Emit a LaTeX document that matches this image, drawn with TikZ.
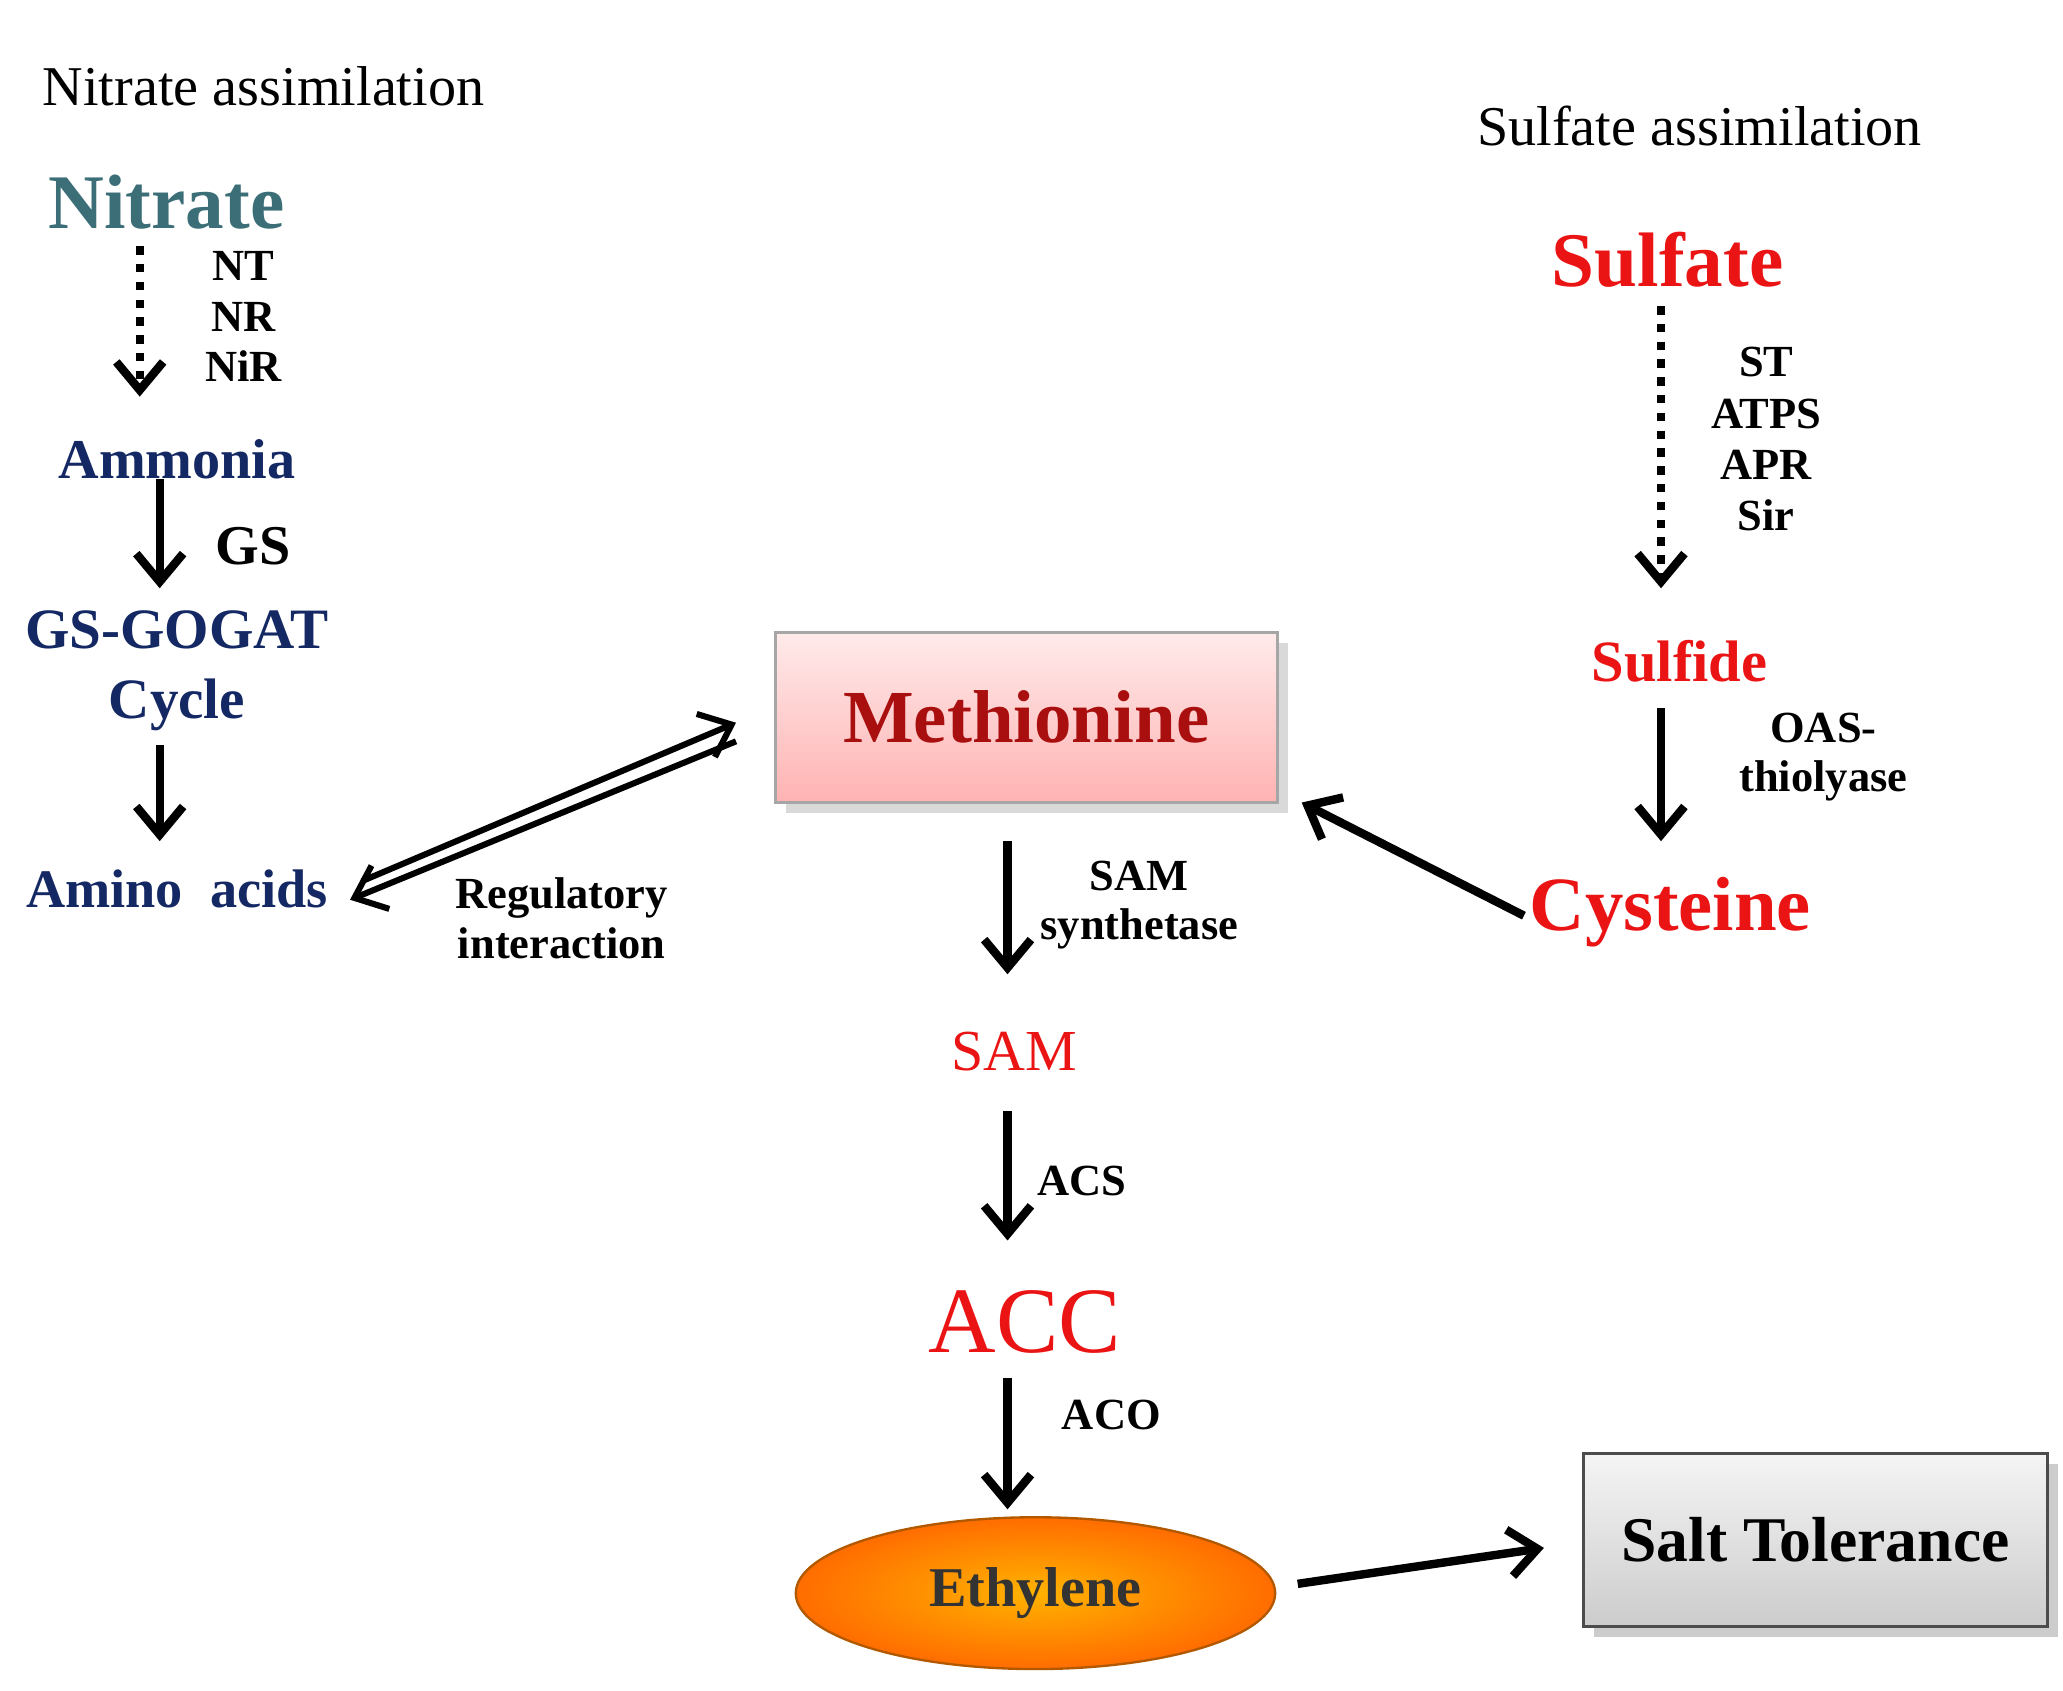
\documentclass[tikz,border=0pt]{standalone}
\usepackage{fontspec}
\setmainfont{Liberation Serif}
\usetikzlibrary{arrows.meta,shapes.geometric,shadows}
\definecolor{nblue}{RGB}{20,40,100}
\definecolor{sred}{RGB}{235,20,20}
\definecolor{teal1}{RGB}{60,110,120}
\definecolor{mred}{RGB}{170,15,15}
\begin{document}
\begin{tikzpicture}[x=0.01cm,y=-0.01cm,
  arr/.style={-{Straight Barb[length=6pt,width=10pt]},line width=1.8pt},
  darr/.style={-{Straight Barb[length=6pt,width=10pt]},line width=1.8pt,dotted},
  lab/.style={font=\fontsize{9.5}{10.5}\selectfont\bfseries,align=center},
  ttl/.style={font=\fontsize{12}{13}\selectfont}]
\useasboundingbox (0,0) rectangle (1550,1270);
% nitrate side
\node[ttl] (nt) at (198,65) {Nitrate assimilation};
\node[font=\fontsize{16.5}{18}\selectfont\bfseries,text=teal1] (nitrate) at (125,152) {Nitrate};
\coordinate (n1) at (105,185); \coordinate (n2) at (105,298);
\draw[darr] (n1) -- (n2);
\node[lab] (lnt) at (183,200) {NT};
\node[lab] (lnr) at (183,238) {NR};
\node[lab] (lnir) at (183,275) {NiR};
\node[font=\fontsize{12}{13}\selectfont\bfseries,text=nblue] (amm) at (133,345) {Ammonia};
\coordinate (a1) at (120,360); \coordinate (a2) at (120,442);
\draw[arr] (a1) -- (a2);
\node[font=\fontsize{12}{13}\selectfont\bfseries] (gs) at (190,410) {GS};
\node[font=\fontsize{12.2}{15}\selectfont\bfseries,text=nblue,align=center] (gsg) at (133,504) {GS-GOGAT\\Cycle};
\coordinate (g1) at (120,560); \coordinate (g2) at (120,632);
\draw[arr] (g1) -- (g2);
\node[font=\fontsize{11.6}{13}\selectfont\bfseries,text=nblue] (aa) at (133,668) {Amino\ \ acids};
% double arrows
\coordinate (u1) at (272,662); \coordinate (u2) at (553,543);
\coordinate (l1) at (553,557); \coordinate (l2) at (263,676);
\draw[line width=1.3pt,-{Straight Barb[length=6pt,width=10pt]}] (u1) -- (u2);
\draw[line width=1.3pt,-{Straight Barb[length=6pt,width=10pt]}] (l1) -- (l2);
\node[lab] (reg) at (422,690) {Regulatory\\interaction};
% methionine
\node[draw=gray!70,line width=0.6pt,top color=red!8,bottom color=red!30,
  minimum width=3.77cm,minimum height=1.28cm,drop shadow={opacity=0.3},
  font=\fontsize{16}{18}\selectfont\bfseries,text=mred] (met) at (771,539) {Methionine};
\coordinate (m1) at (757,632); \coordinate (m2) at (757,732);
\draw[arr] (m1) -- (m2);
\node[lab] (samsyn) at (856,680) {SAM\\synthetase};
\node[font=\fontsize{12.4}{14}\selectfont,text=sred] (sam) at (762,790) {SAM};
\coordinate (s1) at (757,835); \coordinate (s2) at (757,932);
\draw[arr] (s1) -- (s2);
\node[lab] (acs) at (813,887) {ACS};
\node[font=\fontsize{20}{22}\selectfont,text=sred] (acc) at (770,993) {ACC};
\coordinate (c1) at (757,1035); \coordinate (c2) at (757,1134);
\draw[arr] (c1) -- (c2);
\node[lab] (aco) at (835,1063) {ACO};
\node[ellipse,draw=orange!70!black,line width=0.5pt,minimum width=3.6cm,minimum height=1.14cm,
  inner color=orange!60!yellow,outer color=orange!85!red,
  font=\fontsize{12}{14}\selectfont\bfseries,text=black!80] (eth) at (778,1197) {Ethylene};
\node[draw=gray!60!black,line width=0.6pt,minimum width=3.48cm,minimum height=1.3cm,
  top color=gray!8,bottom color=gray!40,drop shadow={opacity=0.4},
  font=\fontsize{13.6}{15}\selectfont\bfseries] (salt) at (1364,1157) {Salt Tolerance};
\coordinate (e1) at (975,1190); \coordinate (e2) at (1160,1163);
\draw[arr] (e1) -- (e2);
% sulfate side
\node[ttl] (st) at (1277,95) {Sulfate assimilation};
\node[font=\fontsize{16.5}{18}\selectfont\bfseries,text=sred] (sulfate) at (1253,195) {Sulfate};
\coordinate (f1) at (1248,230); \coordinate (f2) at (1248,442);
\draw[darr] (f1) -- (f2);
\node[lab] (lst) at (1327,272) {ST};
\node[lab] (latps) at (1327,311) {ATPS};
\node[lab] (lapr) at (1327,349) {APR};
\node[lab] (lsir) at (1327,387) {Sir};
\node[font=\fontsize{12.5}{14}\selectfont\bfseries,text=sred] (sulfide) at (1262,497) {Sulfide};
\coordinate (h1) at (1248,532); \coordinate (h2) at (1248,632);
\draw[arr] (h1) -- (h2);
\node[lab] (oas) at (1370,569) {OAS-\\thiolyase};
\node[font=\fontsize{16.4}{18}\selectfont\bfseries,text=sred] (cys) at (1255,685) {Cysteine};
\coordinate (y1) at (1145,688); \coordinate (y2) at (978,603);
\draw[arr] (y1) -- (y2);
\end{tikzpicture}
\end{document}
